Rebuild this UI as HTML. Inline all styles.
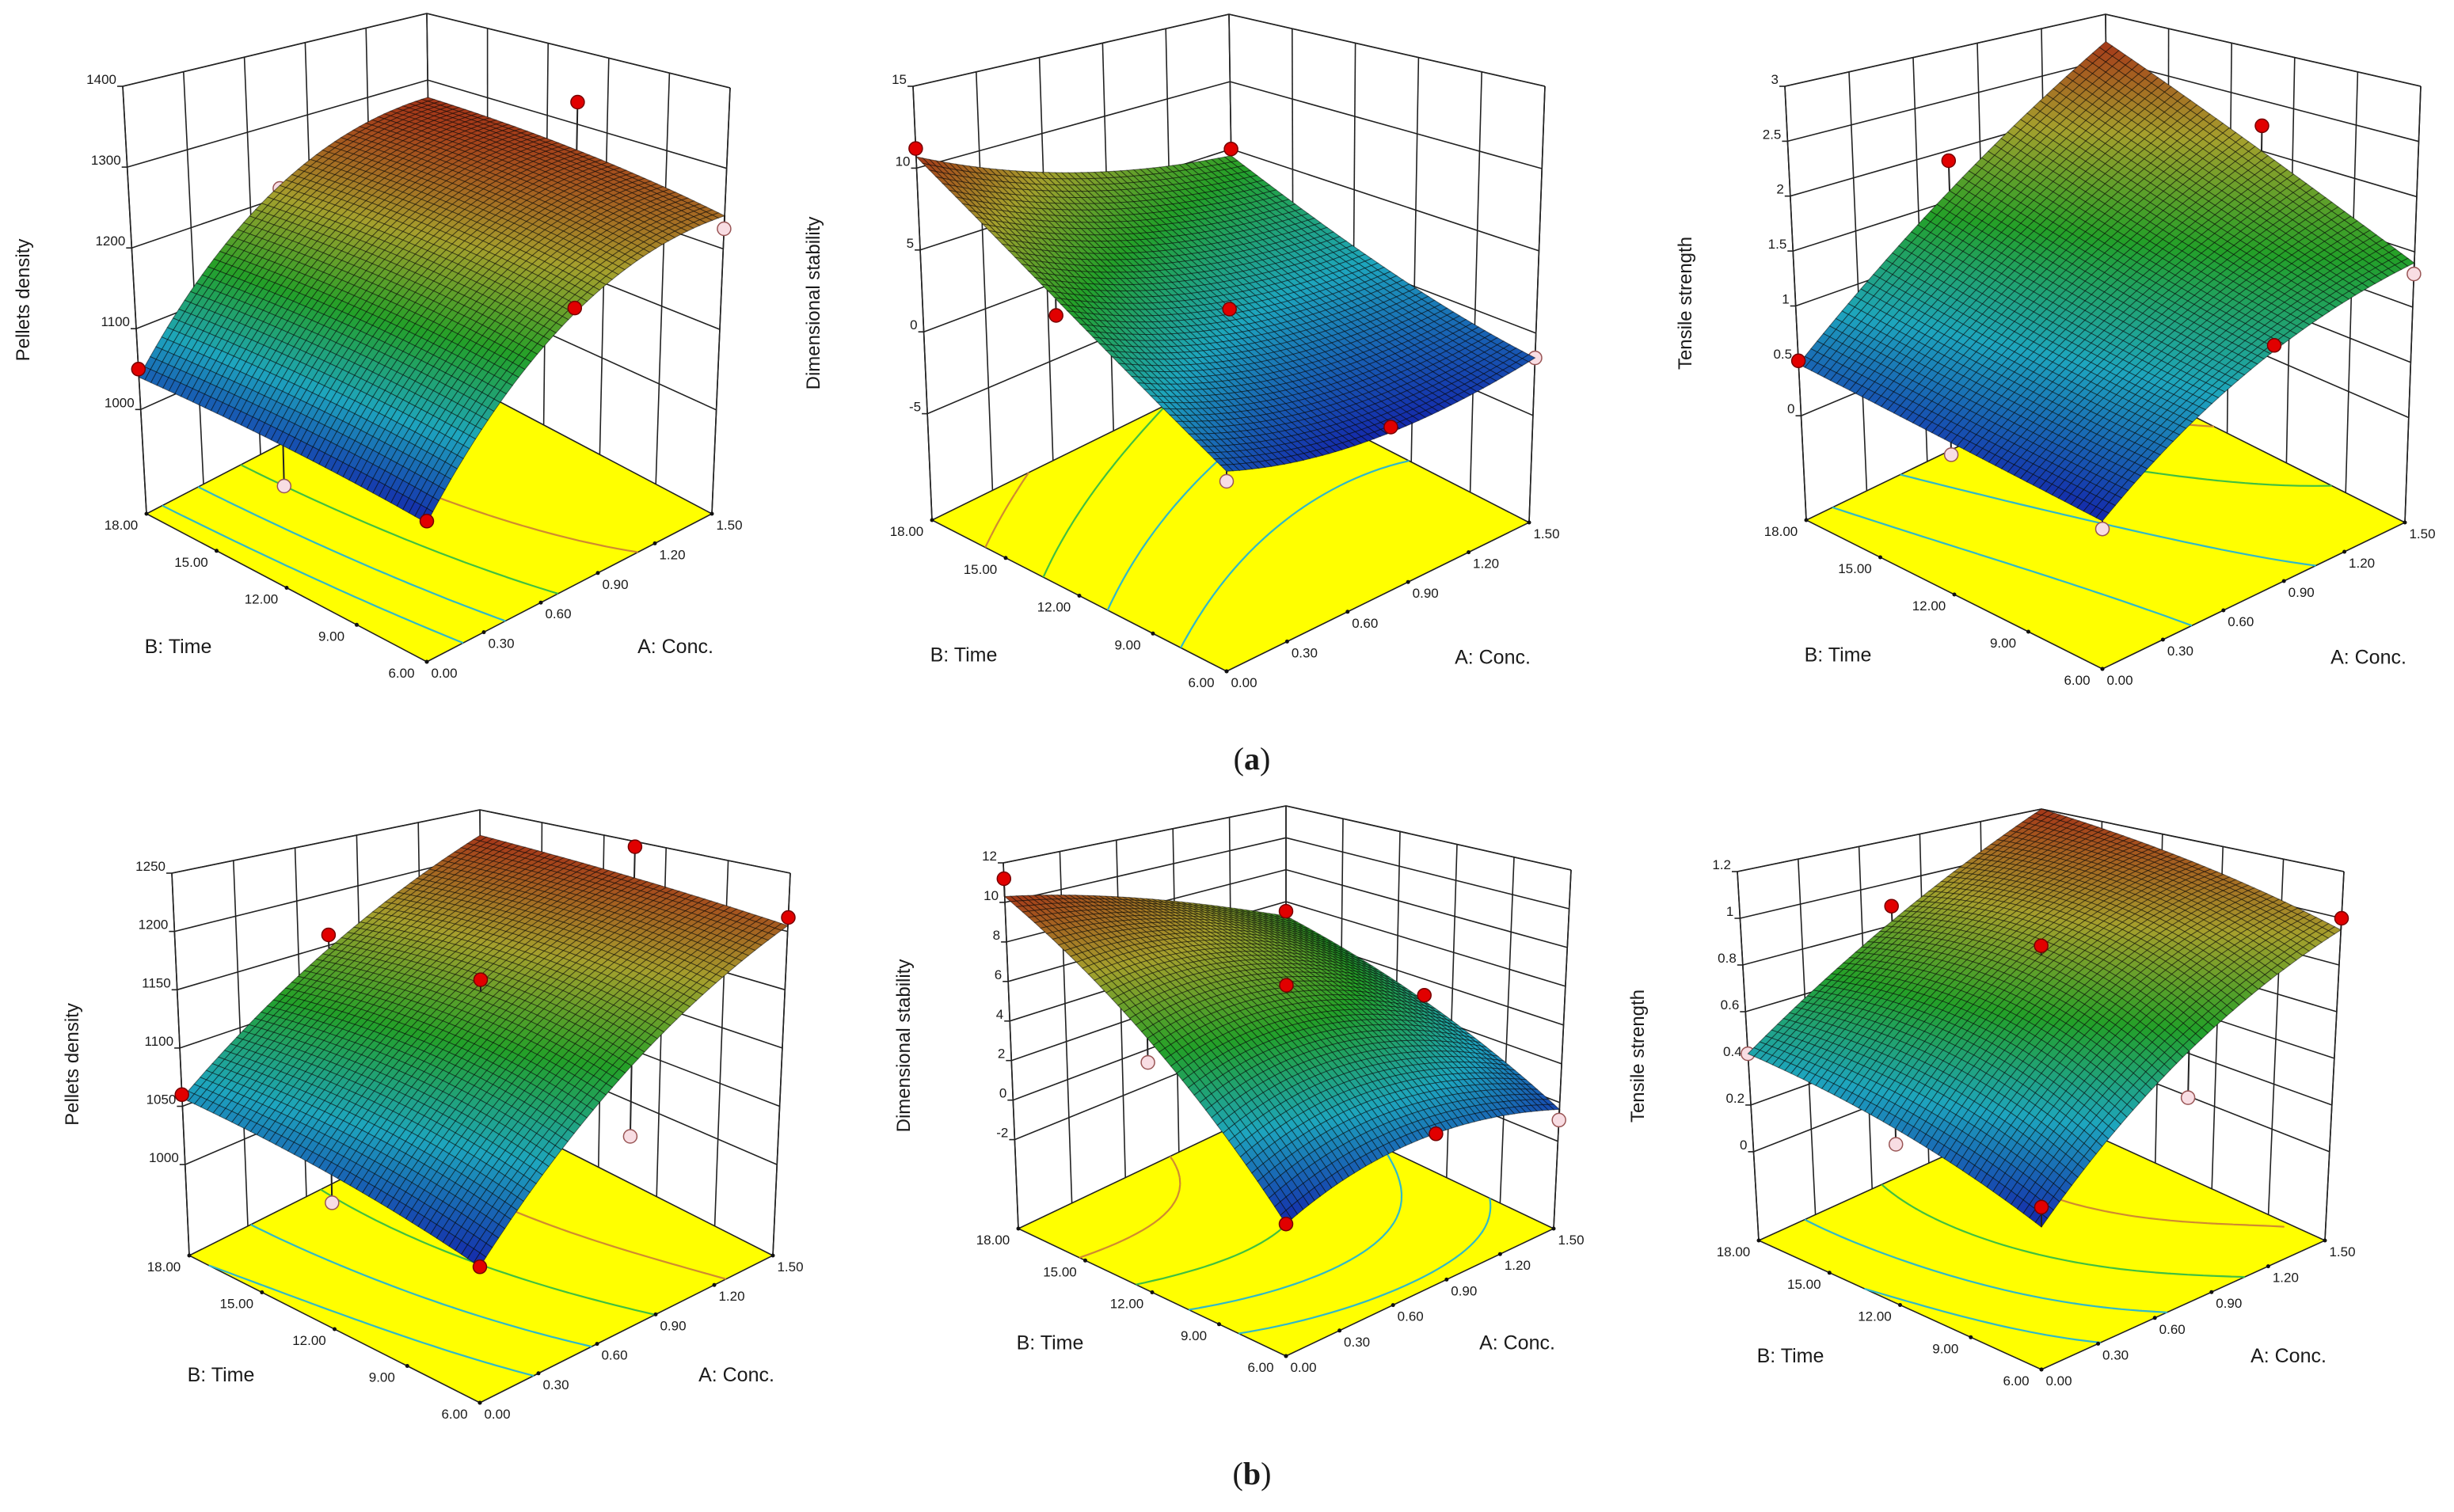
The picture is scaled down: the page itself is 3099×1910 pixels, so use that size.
<!DOCTYPE html>
<html><head><meta charset="utf-8">
<style>
html,body{margin:0;padding:0;background:#fff;}
svg{display:block;}
text{font-family:"Liberation Sans",sans-serif;fill:#1a1a1a;}
</style></head>
<body>
<svg id="fig" xmlns="http://www.w3.org/2000/svg" width="3099" height="1910" viewBox="0 0 3099 1910">
<rect x="0" y="0" width="3099" height="1910" fill="#fff"/>
<text x="1581" y="972" text-anchor="middle" font-size="40" style="font-family:'Liberation Serif',serif">(<tspan font-weight="bold">a</tspan>)</text>
<text x="1581" y="1875" text-anchor="middle" font-size="40" style="font-family:'Liberation Serif',serif">(<tspan font-weight="bold">b</tspan>)</text>
</svg>
<script>
// ---- data (rows: B: Time = 6, 12, 18 ; cols: A: Conc. = 0, 0.75, 1.5) ----
const concLevels = [0, 0.75, 1.5];
const timeLevels = [6, 12, 18];
const concTicks = [0, 0.3, 0.6, 0.9, 1.2, 1.5];
const timeTicks = [6, 9, 12, 15, 18];

const a1Density = [[1013, 1179, 1241], [1030, 1205, 1265], [1040, 1216, 1274]];
const a2Stability = [[-1.5, -2.7, -1.5], [3.8, 1.0, 0.5], [10.7, 6.8, 4.5]];
const a3Tensile = [[0.16, 0.95, 1.4], [0.3, 1.2, 2.0], [0.47, 1.6, 2.7]];
const b1Density = [[1013, 1120, 1205], [1038, 1145, 1215], [1057, 1147, 1222]];
const b2Stability = [[-1.0, 0.6, -0.35], [5.1, 5.7, 2.8], [10.3, 8.4, 5.1]];
const b3Tensile = [[0.12, 0.6, 0.95], [0.3, 0.83, 1.1], [0.42, 0.82, 1.2]];

const a1Ticks = [1000, 1100, 1200, 1300, 1400];
const a2Ticks = [-5, 0, 5, 10, 15];
const a3Ticks = [0, 0.5, 1, 1.5, 2, 2.5, 3];
const b1Ticks = [1000, 1050, 1100, 1150, 1200, 1250];
const b2Ticks = [-2, 0, 2, 4, 6, 8, 10, 12];
const b3Ticks = [0, 0.2, 0.4, 0.6, 0.8, 1, 1.2];

// design points: [conc, time, response, above(1)/below(0) surface]
const a1Points = [[0,18,1050,1],[0.75,18,1212,0],[1.5,12,1330,1],[1.5,6,1225,0],[0.75,6,1185,1],[0,6,1015,1],[0,12,985,0]];
const a2Points = [[0,18,11.2,1],[1.5,18,5.0,1],[0.75,12,1.3,1],[0,12.7,3.6,1],[0.8,6,-2.4,1],[1.5,6,-1.5,0],[0,6,-2.0,0]];
const a3Points = [[0,18,0.5,1],[0.75,18,1.9,1],[1.5,12,2.25,1],[0.83,6,1.06,1],[1.5,6,1.3,0],[0,6,0.1,0],[0,12,0.2,0]];
const b1Points = [[0,18,1060,1],[0.75,18,1160,1],[0.75,12,1155,1],[1.5,12,1245,1],[1.5,6,1212,1],[0.75,6,1067,0],[0,12,1017,0],[0,6,1013,1]];
const b2Points = [[0,18,11.2,1],[1.5,18,5.4,1],[0.75,12,5.8,1],[1.5,12,3.1,1],[0.82,6,0.6,1],[1.5,6,-0.9,0],[0,6,-1.0,1],[0,12,4.0,0]];
const b3Points = [[0.75,18,0.89,1],[1.5,6,1.0,1],[0,18,0.42,0],[0,12,0.24,0],[0.75,6,0.42,0],[0.75,12,0.87,1],[0,6,0.19,1]];

// ---- panel geometry (pixel corners of the plot box) ----
const panels = [
 {id:'a1', title:'Pellets density', grid:a1Density, ticks:a1Ticks, pts:a1Points, zBot:871, zTop:1400,
  L:[185,649], Lt:[155,109], R:[899,649], Rt:[922,111], F:[539,836], Bkt:[539,17]},
 {id:'a2', title:'Dimensional stability', grid:a2Stability, ticks:a2Ticks, pts:a2Points, zBot:-11.5, zTop:15,
  L:[1177,657], Lt:[1153,109], R:[1931,660], Rt:[1951,109], F:[1549,848], Bkt:[1552,18]},
 {id:'a3', title:'Tensile strength', grid:a3Tensile, ticks:a3Ticks, pts:a3Points, zBot:-0.95, zTop:3,
  L:[2281,657], Lt:[2254,109], R:[3037,660], Rt:[3057,109], F:[2655,845], Bkt:[2659,18]},
 {id:'b1', title:'Pellets density', grid:b1Density, ticks:b1Ticks, pts:b1Points, zBot:922, zTop:1250,
  L:[239,1586], Lt:[217,1103], R:[976,1586], Rt:[998,1103], F:[606,1772], Bkt:[606,1023]},
 {id:'b2', title:'Dimensional stability', grid:b2Stability, ticks:b2Ticks, pts:b2Points, zBot:-6.5, zTop:12,
  L:[1286,1552], Lt:[1267,1090], R:[1962,1552], Rt:[1984,1099], F:[1624,1713], Bkt:[1624,1018]},
 {id:'b3', title:'Tensile strength', grid:b3Tensile, ticks:b3Ticks, pts:b3Points, zBot:-0.38, zTop:1.2,
  L:[2221,1567], Lt:[2194,1101], R:[2936,1567], Rt:[2960,1101], F:[2578,1730], Bkt:[2578,1022]}
];

const NS = 'http://www.w3.org/2000/svg';
const svg = document.getElementById('fig');
function mk(tag, attrs, parent){
  const e = document.createElementNS(NS, tag);
  for (const k in attrs) e.setAttribute(k, attrs[k]);
  parent.appendChild(e);
  return e;
}
function lag(t){ return [2*(t-0.5)*(t-1), -4*t*(t-1), 2*t*(t-0.5)]; }
function surf(grid, u, v){
  const lu = lag(u), lv = lag(v); let s = 0;
  for (let j=0;j<3;j++) for (let i=0;i<3;i++) s += grid[j][i]*lu[i]*lv[j];
  return s;
}
function uOf(a){ return (a - concLevels[0])/(concLevels[2]-concLevels[0]); }
function vOf(b){ return (b - timeLevels[0])/(timeLevels[2]-timeLevels[0]); }
const stops = [[0,[20,40,170]],[0.25,[30,165,190]],[0.5,[35,160,40]],[0.75,[165,160,45]],[1,[165,55,25]]];
function cmap(t){
  t = Math.max(0, Math.min(1, t));
  for (let k=1;k<stops.length;k++){
    if (t <= stops[k][0]){
      const a = stops[k-1], b = stops[k], f = (t-a[0])/(b[0]-a[0]);
      const c = a[1].map((x,i)=>Math.round(x+(b[1][i]-x)*f));
      return 'rgb('+c.join(',')+')';
    }
  }
  return 'rgb(165,55,25)';
}
function fmt(v){ return String(Math.round(v*100)/100); }

panels.forEach(p => {
  const Bk = [p.L[0]+p.R[0]-p.F[0], p.L[1]+p.R[1]-p.F[1]];
  const hL = p.L[1]-p.Lt[1], hR = p.R[1]-p.Rt[1], hB = Bk[1]-p.Bkt[1];
  const hm = (hL+hR)/2, hF = hm*hm/hB;
  const Ft = [p.F[0], p.F[1]-hF];
  function proj(u, v, w){
    const c = (A,B,C,D)=>[0,1].map(k=>A[k]*(1-u)*(1-v)+B[k]*u*(1-v)+C[k]*(1-u)*v+D[k]*u*v);
    const bo = c(p.F, p.R, p.L, Bk), to = c(Ft, p.Rt, p.Lt, p.Bkt);
    return [bo[0]*(1-w)+to[0]*w, bo[1]*(1-w)+to[1]*w];
  }
  const wOf = z => (z - p.zBot)/(p.zTop - p.zBot);
  const g = mk('g', {}, svg);
  
  

  // walls
  const walls = mk('g', {stroke:'#222', 'stroke-width':1.6, fill:'none'}, g);
  
  
  const ln = (A,B,par)=>mk('line',{x1:A[0].toFixed(1),y1:A[1].toFixed(1),x2:B[0].toFixed(1),y2:B[1].toFixed(1)},par);
  for (let k=0;k<=5;k++){
    ln(proj(k/5,1,0), proj(k/5,1,1), walls);
    ln(proj(1,k/5,0), proj(1,k/5,1), walls);
  }
  ln(proj(0,1,1), proj(1,1,1), walls); ln(proj(1,1,1), proj(1,0,1), walls);
  p.ticks.forEach(t => {
    const w = wOf(t);
    ln(proj(0,1,w), proj(1,1,w), walls);
    ln(proj(1,1,w), proj(1,0,w), walls);
  });

  // floor
  const fl = [proj(0,0,0),proj(1,0,0),proj(1,1,0),proj(0,1,0)];
  const floor = mk('polygon', {points: fl.map(q=>q[0].toFixed(1)+','+q[1].toFixed(1)).join(' '), fill:'#ffff00', stroke:'#222', 'stroke-width':1.6}, g);
  
  

  // contours on floor
  const N = 40, Z = [];
  let zmin = Infinity, zmax = -Infinity;
  for (let j=0;j<=N;j++){ Z.push([]); for (let i=0;i<=N;i++){ const z = surf(p.grid, i/N, j/N); Z[j].push(z); zmin=Math.min(zmin,z); zmax=Math.max(zmax,z);} }
  const cg = mk('g', {fill:'none', 'stroke-width':2.2}, g);
  
  
  [0.2,0.4,0.6,0.8].forEach(f => {
    const lev = zmin + (zmax-zmin)*f; let d = '';
    for (let j=0;j<N;j++) for (let i=0;i<N;i++){
      const c = [[i,j],[i+1,j],[i+1,j+1],[i,j+1]], hits = [];
      for (let e=0;e<4;e++){
        const A=c[e], B=c[(e+1)%4], za=Z[A[1]][A[0]], zb=Z[B[1]][B[0]];
        if ((za-lev)*(zb-lev) < 0){ const t=(lev-za)/(zb-za); hits.push([(A[0]+(B[0]-A[0])*t)/N,(A[1]+(B[1]-A[1])*t)/N]); }
      }
      for (let h=0;h+1<hits.length;h+=2){
        const P1=proj(hits[h][0],hits[h][1],0), P2=proj(hits[h+1][0],hits[h+1][1],0);
        d += 'M'+P1[0].toFixed(1)+' '+P1[1].toFixed(1)+'L'+P2[0].toFixed(1)+' '+P2[1].toFixed(1);
      }
    }
    const cl = mk('path', {d:d, stroke: f>0.7 ? '#d08a30' : (f>0.5 ? '#40c040' : '#30b8c8')}, cg);
    
    
  });

  // axes with ticks
  const ax = mk('g', {stroke:'#222', 'stroke-width':1.6}, g);
  
  
  ln(proj(0,1,0), proj(0,1,1), ax);
  ln(proj(1,0,0), proj(1,0,1), ax);
  p.ticks.forEach(t => {
    const q = proj(0,1,wOf(t));
    ln([q[0]-7,q[1]], q, ax);
    const tx = mk('text', {x:(q[0]-8).toFixed(1), y:(q[1]-3).toFixed(1), 'text-anchor':'end', 'font-size':17}, g);
    tx.textContent = fmt(t);
    
    
  });
  timeTicks.forEach(b => {
    const q = proj(0, vOf(b), 0);
    const dot = mk('circle', {cx:q[0].toFixed(1), cy:q[1].toFixed(1), r:2.5, fill:'#111'}, g);
    
    
    const tx = mk('text', {x:(q[0]-32).toFixed(1), y:(q[1]+20).toFixed(1), 'text-anchor':'middle', 'font-size':17}, g);
    tx.textContent = b.toFixed(2);
    
    
  });
  concTicks.forEach(a => {
    const q = proj(uOf(a), 0, 0);
    const dot = mk('circle', {cx:q[0].toFixed(1), cy:q[1].toFixed(1), r:2.5, fill:'#111'}, g);
    
    
    const tx = mk('text', {x:(q[0]+22).toFixed(1), y:(q[1]+20).toFixed(1), 'text-anchor':'middle', 'font-size':17}, g);
    tx.textContent = a.toFixed(2);
    
    
  });

  function drawPoint(pt, par){
    const u = uOf(pt[0]), v = vOf(pt[1]);
    const q = proj(u, v, wOf(pt[2])), s = proj(u, v, wOf(surf(p.grid,u,v)));
    const st = mk('line', {x1:q[0].toFixed(1), y1:q[1].toFixed(1), x2:s[0].toFixed(1), y2:s[1].toFixed(1), stroke:'#222', 'stroke-width':2}, par);
    
    
    const c = mk('circle', {cx:q[0].toFixed(1), cy:q[1].toFixed(1), r:8.5, fill: pt[3] ? '#e10000' : '#f8dde3', stroke: pt[3] ? '#700' : '#955', 'stroke-width':1.5}, par);
    
    
  }
  p.pts.filter(pt=>!pt[3]).forEach(pt => drawPoint(pt, g));

  // surface
  const M = 48;
  const sg = mk('g', {'stroke-width':1}, g);
  
  
  const order = [];
  for (let j=0;j<M;j++) for (let i=0;i<M;i++) order.push([i,j]);
  order.sort((A,B)=>(B[0]+B[1])-(A[0]+A[1]));
  order.forEach(([i,j]) => {
    const cs = [[i,j],[i+1,j],[i+1,j+1],[i,j+1]];
    let zs = 0;
    const pts = cs.map(([a,b]) => { const z = surf(p.grid, a/M, b/M); zs += z; return proj(a/M, b/M, wOf(z)); });
    const col = cmap((zs/4 - zmin)/(zmax - zmin));
    const cell = mk('path', {d:'M'+pts.map(q=>q[0].toFixed(1)+' '+q[1].toFixed(1)).join('L')+'Z', fill:col, stroke:'rgba(0,0,0,0.5)'}, sg);
    
    
  });
  p.pts.filter(pt=>pt[3]).forEach(pt => drawPoint(pt, g));

  // titles
  const midY = (p.L[1]+p.Lt[1])/2, tx0 = p.Lt[0]-118;
  const zt = mk('text', {x:tx0, y:midY, 'text-anchor':'middle', 'font-size':24, transform:'rotate(-90 '+tx0+' '+midY+')'}, g);
  zt.textContent = p.title;
  
  
  const dy = 0.30*hL + 14;
  const bt = mk('text', {x:p.L[0]+40, y:(p.L[1]+dy).toFixed(1), 'text-anchor':'middle', 'font-size':25}, g);
  bt.textContent = 'B: Time';
  
  
  const at = mk('text', {x:p.R[0]-46, y:(p.R[1]+dy).toFixed(1), 'text-anchor':'middle', 'font-size':25}, g);
  at.textContent = 'A: Conc.';
  
  
});
</script>
</body></html>
